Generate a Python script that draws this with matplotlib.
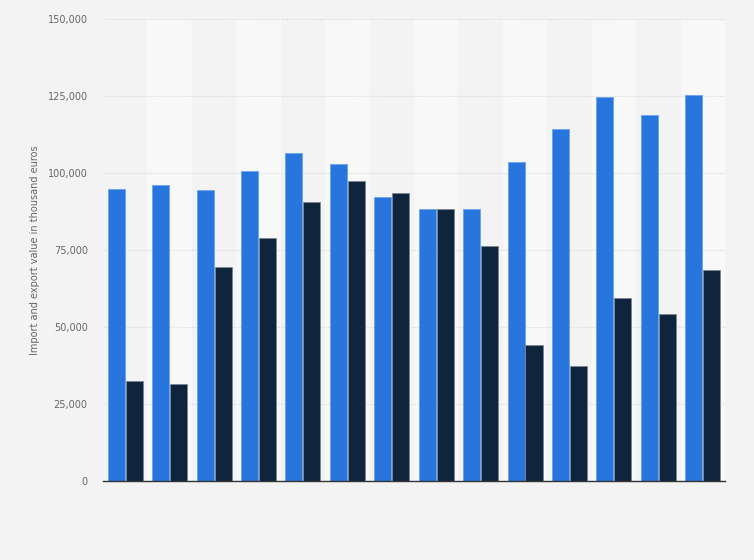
import numpy as np
import matplotlib.pyplot as plt
from matplotlib.ticker import FuncFormatter

imports = [95000, 96300, 94400, 100600, 106700, 103100, 92400,
           88200, 88200, 103500, 114500, 124600, 119000, 125500]
exports = [32400, 31400, 69400, 79100, 90600, 97600, 93700,
           88200, 76500, 44100, 37200, 59600, 54100, 68700]
yticks = [0, 25000, 50000, 75000, 100000, 125000, 150000]

n = len(imports)
x = np.arange(n)
w = 0.385

fig = plt.figure(figsize=(7.54, 5.60), dpi=100)
fig.patch.set_facecolor('#f3f3f3')
ax = fig.add_axes([0.1366, 0.1411, 0.8249, 0.8245])
ax.set_facecolor('#f3f3f3')

# alternating column bands
for i in range(n):
    if i % 2 == 1:
        ax.axvspan(i - 0.5, i + 0.5, color='#f8f8f8', zorder=0, lw=0)

ax.bar(x - w / 2 - 0.01, imports, w, color='#2876dd', edgecolor='#6aa3ea',
       linewidth=0.6, zorder=3)
ax.bar(x + w / 2 + 0.01, exports, w, color='#0f253e', edgecolor='#7a8694',
       linewidth=0.6, zorder=3)

ax.set_xlim(-0.5, n - 0.5)
ax.set_ylim(0, 150000)
ax.set_yticks(yticks)
ax.yaxis.set_major_formatter(FuncFormatter(lambda v, p: f"{int(v):,}"))
ax.set_xticks([])
ax.grid(axis='y', color='#d6d6d6', linestyle=(0, (1, 1.5)), linewidth=0.8, zorder=1)
ax.tick_params(axis='y', length=0, pad=11, labelsize=7, labelcolor='#666666')

for s in ['top', 'right', 'left']:
    ax.spines[s].set_visible(False)
ax.spines['bottom'].set_color('#333333')
ax.spines['bottom'].set_linewidth(1.0)
ax.spines['bottom'].set_zorder(4)

ax.set_ylabel("Import and export value in thousand euros", fontsize=7,
              color='#666666')
ax.yaxis.set_label_coords(-0.101, 0.5)

plt.savefig("out.png", dpi=100, facecolor=fig.get_facecolor())
